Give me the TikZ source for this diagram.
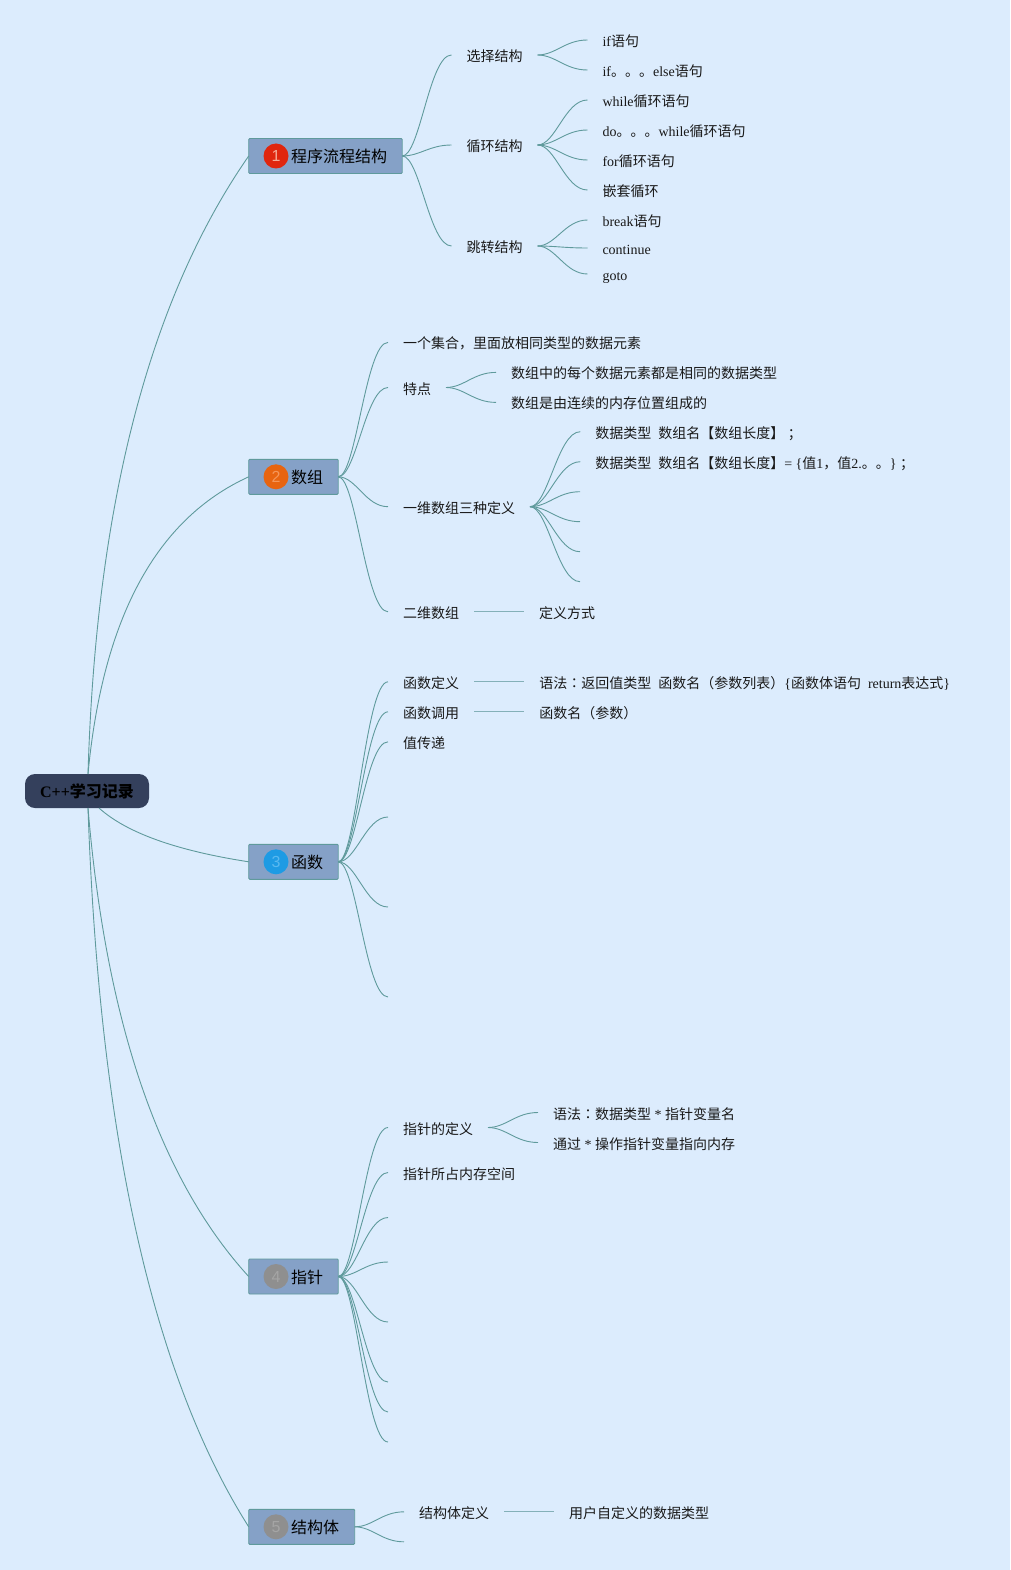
\documentclass[tikz,border=0pt]{standalone}
\usepackage{fontspec}
\setmainfont{Liberation Serif}
\setsansfont{Liberation Sans}
\newfontfamily\cjkfont{Noto Sans CJK SC}
\newfontfamily\cjktc{Noto Sans CJK TC}
\newcommand\zh[1]{{\cjkfont #1}}
\newcommand\colonzh{{\cjktc ：}}
\usetikzlibrary{calc}
\definecolor{pagebg}{HTML}{DCECFD}
\definecolor{linkc}{HTML}{5F9A9C}
\definecolor{straightc}{HTML}{84B0B8}
\definecolor{boxfill}{HTML}{85A1C7}
\definecolor{rootfill}{HTML}{34405C}
\tikzset{
  link/.style={draw=linkc,line width=0.9pt},
  straight/.style={draw=straightc,line width=1.1pt},
  item/.style={anchor=west,inner xsep=15pt,inner ysep=0pt,outer sep=0pt,text height=14pt,text depth=1pt,text=black!90,font=\fontsize{14}{14}\selectfont},
  topic/.style={draw=linkc,fill=boxfill,line width=0.9pt,rounded corners=1pt,minimum height=35pt,inner sep=0pt,outer sep=0pt,anchor=west},
  title/.style={anchor=west,inner sep=0pt,outer sep=0pt,text height=16pt,text depth=2pt,font=\fontsize{16}{16}\selectfont},
  badge/.style={circle,minimum size=25pt,inner sep=0pt,outer sep=0pt,font=\sffamily\fontsize{16}{16}\selectfont},
  rootbox/.style={fill=rootfill,rounded corners=10pt,minimum width=124pt,minimum height=34pt,inner sep=0pt,outer sep=0pt,font=\bfseries\fontsize{16}{16}\selectfont}
}
% S-shaped branch from the east side of a parent to the west side of a child
\newcommand\branch[2]{\draw[link] (#1) .. controls ($(#1)!.36!(#2|-#1)$) and ($(#1|-#2)!.55!(#2)$) .. (#2);}
% curve from the root, bending round the control point #3
\newcommand\trunk[3]{\draw[link] (#1) .. controls ($(#1)!.667!(#3)$) and ($(#2)!.667!(#3)$) .. (#2);}
\begin{document}
\begin{tikzpicture}[x=1pt,y=-1pt]
\useasboundingbox (0,0) rectangle (1010,1570);
\fill[pagebg] (0,0) rectangle (1010,1570);

% root and main topics
\node[rootbox] (root) at (87,791) {C++\zh{学习记录}};
\node[topic,minimum width=153.5pt] (t1) at (248.7,156) {};
\node[topic,minimum width=89.5pt] (t2) at (248.7,476.8) {};
\node[topic,minimum width=89.5pt] (t3) at (248.7,861.8) {};
\node[topic,minimum width=89.5pt] (t4) at (248.7,1276.5) {};
\node[topic,minimum width=106pt] (t5) at (248.7,1526.8) {};
\node[badge,fill={rgb,255:red,224;green,38;blue,14},text={rgb,255:red,245;green,170;blue,150}] (b1) at (276,156) {1};
\node[badge,fill={rgb,255:red,232;green,100;blue,16},text={rgb,255:red,245;green,150;blue,90}] (b2) at (276,476.8) {2};
\node[badge,fill={rgb,255:red,30;green,155;blue,228},text={rgb,255:red,90;green,185;blue,240}] (b3) at (276,861.8) {3};
\node[badge,fill={rgb,255:red,143;green,143;blue,143},text={rgb,255:red,165;green,165;blue,165}] (b4) at (276,1276.5) {4};
\node[badge,fill={rgb,255:red,143;green,143;blue,143},text={rgb,255:red,165;green,165;blue,165}] (b5) at (276,1526.8) {5};
\node[title] (l1) at (291,156) {\zh{程序流程结构}};
\node[title] (l2) at (291,476.8) {\zh{数组}};
\node[title] (l3) at (291,861.8) {\zh{函数}};
\node[title] (l4) at (291,1276.5) {\zh{指针}};
\node[title] (l5) at (291,1526.8) {\zh{结构体}};

% branch 1
\node[item] (a1) at (451.5,55) {\zh{选择结构}};
\node[item] (a2) at (451.5,145) {\zh{循环结构}};
\node[item] (a3) at (451.5,246) {\zh{跳转结构}};
\node[item] (a11) at (587.5,40) {if\zh{语句}};
\node[item] (a12) at (587.5,70) {if\zh{。。。}else\zh{语句}};
\node[item] (a21) at (587.5,100) {while\zh{循环语句}};
\node[item] (a22) at (587.5,130) {do\zh{。。。}while\zh{循环语句}};
\node[item] (a23) at (587.5,160) {for\zh{循环语句}};
\node[item] (a24) at (587.5,190) {\zh{嵌套循环}};
\node[item] (a31) at (587.5,220) {break\zh{语句}};
\node[item] (a32) at (587.5,248) {continue};
\node[item] (a33) at (587.5,274) {goto};

% branch 2
\node[item] (b21) at (388,342.4) {\zh{一个集合，里面放相同类型的数据元素}};
\node[item] (b22) at (388,387.5) {\zh{特点}};
\node[item] (b23) at (388,506.7) {\zh{一维数组三种定义}};
\node[item] (b24) at (388,611.8) {\zh{二维数组}};
\node[item] (b221) at (496,372.4) {\zh{数组中的每个数据元素都是相同的数据类型}};
\node[item] (b222) at (496,402.4) {\zh{数组是由连续的内存位置组成的}};
\node[item] (b231) at (580.3,431.7) {\zh{数据类型}\hspace{7pt}\zh{数组名【数组长度】}\ \zh{；}};
\node[item] (b232) at (580.3,461.7) {\zh{数据类型}\hspace{7pt}\zh{数组名【数组长度】}= \{\zh{值}1\zh{，值}2.\zh{。。}\}\ \zh{；}};
\coordinate (b233) at (580,491.7);
\coordinate (b234) at (580,521.7);
\coordinate (b235) at (580,551.7);
\coordinate (b236) at (580,581.7);
\node[item] (b241) at (524,611.8) {\zh{定义方式}};

% branch 3
\node[item] (c1) at (388,681.8) {\zh{函数定义}};
\node[item] (c2) at (388,711.8) {\zh{函数调用}};
\node[item] (c3) at (388,741.8) {\zh{值传递}};
\coordinate (c4) at (388,817);
\coordinate (c5) at (388,907);
\coordinate (c6) at (388,997);
\node[item] (c11) at (524.3,681.8) {\zh{语法}\colonzh\zh{返回值类型}\hspace{7pt}\zh{函数名（参数列表）}\{\zh{函数体语句}\hspace{7pt}return\zh{表达式}\}};
\node[item] (c21) at (524.3,711.8) {\zh{函数名（参数）}};

% branch 4
\node[item] (d1) at (388,1127.5) {\zh{指针的定义}};
\node[item] (d2) at (388,1172.5) {\zh{指针所占内存空间}};
\coordinate (d3) at (388,1217.5);
\coordinate (d4) at (388,1262);
\coordinate (d5) at (388,1322);
\coordinate (d6) at (388,1382);
\coordinate (d7) at (388,1412);
\coordinate (d8) at (388,1442);
\node[item] (d11) at (538,1112.5) {\zh{语法}\colonzh\zh{数据类型} * \zh{指针变量名}};
\node[item] (d12) at (538,1142.5) {\zh{通过} * \zh{操作指针变量指向内存}};

% branch 5
\node[item] (e1) at (404,1511.8) {\zh{结构体定义}};
\coordinate (e2) at (404,1541.8);
\node[item] (e11) at (554,1511.8) {\zh{用户自定义的数据类型}};

% root connectors
\trunk{$(root.north)+(1,0)$}{t1.west}{100,370}
\trunk{$(root.north)+(1,0)$}{t2.west}{110,540}
\trunk{$(root.south)+(12,0)$}{t3.west}{140,845}
\trunk{$(root.south)+(1,0)$}{t4.west}{115,1130}
\trunk{$(root.south)+(1,0)$}{t5.west}{105,1300}

% topic connectors
\foreach \c in {a1,a2,a3} {\branch{t1.east}{\c.west}}
\foreach \c in {a11,a12} {\branch{a1.east}{\c.west}}
\foreach \c in {a21,a22,a23,a24} {\branch{a2.east}{\c.west}}
\foreach \c in {a31,a32,a33} {\branch{a3.east}{\c.west}}
\foreach \c in {b21,b22,b23,b24} {\branch{t2.east}{\c.west}}
\foreach \c in {b221,b222} {\branch{b22.east}{\c.west}}
\foreach \c in {b231,b232} {\branch{b23.east}{\c.west}}
\foreach \c in {b233,b234,b235,b236} {\branch{b23.east}{\c}}
\draw[straight] (b24.east) -- (b241.west);
\foreach \c in {c1,c2,c3} {\branch{t3.east}{\c.west}}
\foreach \c in {c4,c5,c6} {\branch{t3.east}{\c}}
\draw[straight] (c1.east) -- (c11.west);
\draw[straight] (c2.east) -- (c21.west);
\foreach \c in {d1,d2} {\branch{t4.east}{\c.west}}
\foreach \c in {d3,d4,d5,d6,d7,d8} {\branch{t4.east}{\c}}
\foreach \c in {d11,d12} {\branch{d1.east}{\c.west}}
\branch{t5.east}{e1.west}
\branch{t5.east}{e2}
\draw[straight] (e1.east) -- (e11.west);
\end{tikzpicture}
\end{document}
